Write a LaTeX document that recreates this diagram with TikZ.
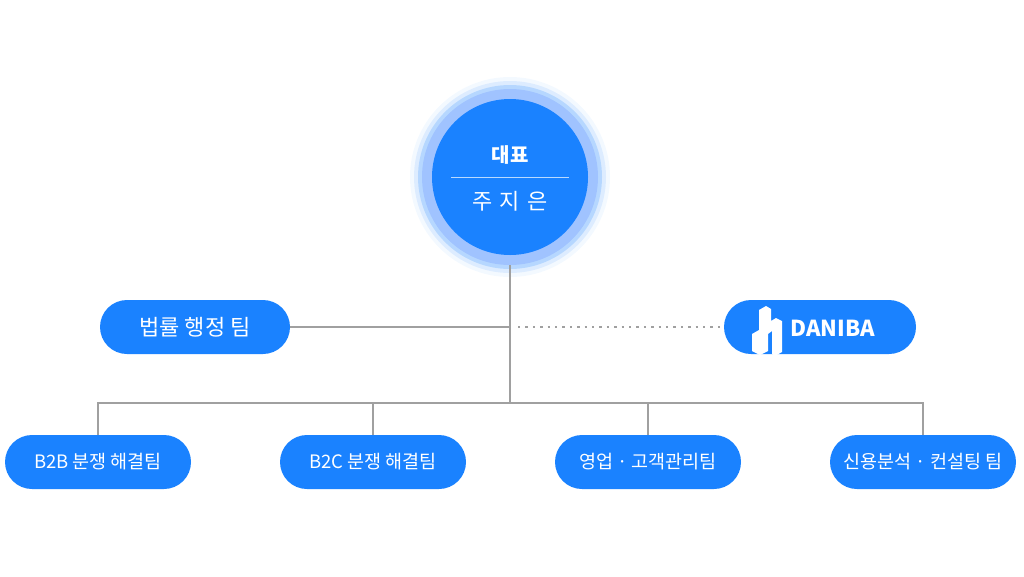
\documentclass[tikz,border=0pt]{standalone}
\usepackage{fontspec}
\setmainfont{Noto Sans CJK KR}
\usetikzlibrary{positioning}
\definecolor{azulcito}{RGB}{26,130,255}
\definecolor{anillo}{RGB}{160,195,255}
\definecolor{linea}{RGB}{160,160,160}
\tikzset{
  team/.style={rounded corners=27pt, fill=azulcito, text=white, minimum width=186pt, minimum height=54pt, font=\fontsize{18.5}{20}\selectfont, inner sep=0pt},
  conn/.style={linea, line width=2.2pt},
}
\begin{document}
\begin{tikzpicture}[x=1pt,y=-1pt]
			\useasboundingbox (0,0) rectangle (1024,576);
			% glow of the boss
			\foreach \r/\o in {100/0.05, 96/0.1, 92/0.2} {
				\fill [azulcito, opacity=\o] (510,177) circle [radius=\r];
			}
			\fill [anillo] (510,177) circle [radius=88];
			\node [circle, fill=azulcito, minimum size=156pt, inner sep=0pt] (boss) at (510,177) {};
			\node [text=white, font=\fontsize{20}{22}\selectfont\bfseries] (title) at (510,155) {대표};
			\node [text=white, font=\fontsize{22}{24}\selectfont] (name) at (510,201) {주\hspace{7pt}지\hspace{7pt}은};
			\draw [white!70!azulcito, line width=0.8pt] (451,177) -- (569,177);

			% teams
			\node [team, minimum width=190pt, font=\fontsize{22}{24}\selectfont] (legal) at (195,327) {법률 행정 팀};
			\node [team, minimum width=192pt] (daniba) at (820,327) {};
			\node [team] (b2b) at (98,462) {B2B 분쟁 해결팀};
			\node [team] (b2c) at (373,462) {B2C 분쟁 해결팀};
			\node [team] (sales) at (648,462) {영업 · 고객관리팀};
			\node [team] (credit) at (923,462) {신용분석 · 컨설팅 팀};

			% DANIBA logo
			\node [text=white, font=\fontsize{22}{24}\selectfont\bfseries, anchor=west] (logo) at (787,328) {DANIBA};
			\fill [white] (759,310) -- (766,306) -- (771,309) -- (771,321) -- (776,318) -- (782,321) -- (782,352) -- (775,356) -- (772,354) -- (772,331) -- (768,334) -- (768,351) -- (760,355) -- (752,351) -- (752,334) -- (759,330) -- cycle;

			% connectors
			\coordinate (hub) at (510,327);
			\coordinate (bus) at (510,403);
			\draw [conn] (boss.south) ++(0,10) -- (bus);
			\draw [conn] (legal.east) -- (hub);
			\draw [linea, line width=2.4pt, dash pattern=on 2.4pt off 5pt] (518,327) -- (daniba.west);
			\draw [conn] (b2b.north) -- ++(0,-32) -| (credit.north);
			\draw [conn] (b2c.north) -- ++(0,-32);
			\draw [conn] (sales.north) -- ++(0,-32);
	\end{tikzpicture}
\end{document}
